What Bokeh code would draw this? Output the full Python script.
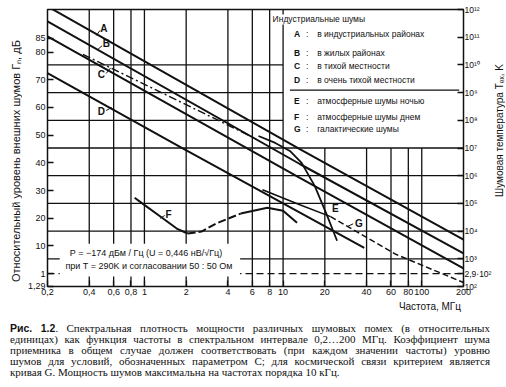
import math
from bokeh.plotting import figure
from bokeh.models import FixedTicker, LinearAxis, Label, Div
from bokeh.layouts import column, row
from bokeh.embed import file_html
from bokeh.resources import INLINE

# ---------------- data ----------------
X_TICKS = [0.2, 0.4, 0.6, 0.8, 1, 2, 4, 6, 8, 10, 20, 40, 60, 80, 100, 200]
X_LABELS = ["0,2", "0,4", "0,6", "0,8", "1", "2", "4", "6", "8", "10",
            "20", "40", "60", "80", "100", "200"]
Y_TICKS = [-4.62, 0, 10, 20, 30, 40, 50, 60, 70, 80, 85]
Y_LABELS = ["1,29", "1", "10", "20", "30", "40", "50", "60", "70", "80", "85"]
T_EXP = [2, 3, 4, 5, 6, 7, 8, 9, 10, 11, 12]
T_LABELS = ["10²", "10³", "10⁴", "10⁵", "10⁶", "10⁷", "10⁸", "10⁹", "10¹⁰", "10¹¹", "10¹²"]
T0_LABEL = "2,9·10²"

GRID_F = [0.4, 0.6, 0.8, 1, 2, 4, 6, 8, 10, 20, 40, 60, 80, 100]
GRID_T = [3, 4, 5, 6, 7, 8, 9, 10]

# industrial noise (MHz, dB)
A_F = [0.215, 13.2, 200]
A_DB = [95.6, 45.0, 12.3]
B_F = [0.2, 13.2, 200]
B_DB = [91.1, 39.6, 7.3]
C_F = [0.2, 13.2, 200]
C_DB = [85.7, 34.6, 1.9]
C2_F = [0.36, 5.8]
C2_DB = [79.2, 49.7]
D_F = [0.2, 1.86, 38.5]
D_DB = [72.4, 45.4, 9.3]
# atmospheric night
E_F = [6.65, 8.78, 11.2, 13.6, 16.9, 20.5, 24.5]
E_DB = [49.7, 47.2, 44.3, 40.0, 31.7, 21.7, 11.9]
# atmospheric day
F_F = [0.85, 0.97, 1.34, 1.71, 2.05, 2.58, 3.29, 4.95, 7.7, 10.0, 12.6]
F_DB = [27.4, 25.3, 20.2, 16.3, 14.5, 15.2, 18.1, 21.7, 23.8, 22.7, 18.4]
# galactic
G_F = [7.1, 13.2, 22, 65, 200]
G_DB = [30.3, 24.9, 20.6, 7.0, -3.2]

LEGEND_TITLE = "Индустриальные шумы"
LEGEND_KEYS = ["A", "B", "C", "D", "E", "F", "G"]
LEGEND_TEXT = ["в индустриальных районах", "в жилых районах", "в тихой местности",
               "в очень тихой местности", "атмосферные шумы ночью",
               "атмосферные шумы днем", "галактические шумы"]

Y_TITLE = "Относительный уровень внешних шумов Гₙ, дБ"
Y2_TITLE = "Шумовая температура Tₑₓ, K"
X_TITLE = "Частота, МГц"

FONT = "Liberation Sans"
BLACK = "#111111"
FIG_H = 300

def t_db(n):
    return 10 * math.log10(10 ** n / 290.0)

Y0, Y1 = t_db(2), t_db(12)

p = figure(width=470, height=FIG_H, x_axis_type="log", x_range=(0.2, 200),
           y_range=(Y0, Y1), output_backend="svg", toolbar_location=None,
           min_border_left=19, min_border_right=25, min_border_top=9,
           min_border_bottom=14, background_fill_color="white",
           border_fill_color="white")
p.grid.visible = False
p.outline_line_color = BLACK
p.outline_line_width = 1.5

def style_axis(ax):
    ax.axis_line_color = None
    ax.major_tick_in = 6
    ax.major_tick_out = 0
    ax.minor_tick_line_color = None
    ax.major_tick_line_color = BLACK
    ax.major_tick_line_width = 1.3
    ax.major_label_text_font = FONT
    ax.major_label_text_font_size = "9px"
    ax.major_label_text_color = BLACK
    ax.major_label_standoff = 2

xa = p.xaxis[0]
xa.ticker = FixedTicker(ticks=X_TICKS)
xa.major_label_overrides = {t: l for t, l in zip(X_TICKS, X_LABELS)}
style_axis(xa)

ya = p.yaxis[0]
ya.ticker = FixedTicker(ticks=Y_TICKS)
ya.major_label_overrides = {t: l for t, l in zip(Y_TICKS, Y_LABELS)}
style_axis(ya)

r_ticks = [t_db(n) for n in T_EXP] + [0.0]
r_labels = T_LABELS + [T0_LABEL]
ra = LinearAxis(ticker=FixedTicker(ticks=r_ticks))
ra.major_label_overrides = {t: l for t, l in zip(r_ticks, r_labels)}
style_axis(ra)
ra.major_label_text_font_size = "8.5px"
ra.major_label_standoff = 1
p.add_layout(ra, "right")

# ---------------- grid ----------------
t7 = t_db(7)
vx = GRID_F
vy0 = [Y0] * len(vx)
vy1 = [t7 if f >= 20 else Y1 for f in vx]
p.segment(x0=vx, y0=vy0, x1=vx, y1=vy1, line_color=BLACK, line_width=1.3)
hy = [t_db(n) for n in GRID_T]
hx1 = [10 if n >= 8 else 200 for n in GRID_T]
p.segment(x0=[0.2] * len(hy), y0=hy, x1=hx1, y1=hy, line_color=BLACK, line_width=1.3)
p.segment(x0=[0.2], y0=[0.0], x1=[200], y1=[0.0], line_color=BLACK,
          line_width=1.2, line_dash="7 4")

# white box behind the formula text
p.quad(left=[0.245], right=[4.9], bottom=[-1.0], top=[10.8], fill_color="white",
       line_color=None)

# ---------------- curves ----------------
for xs, ys in [(A_F, A_DB), (B_F, B_DB), (C_F, C_DB), (D_F, D_DB)]:
    p.line(xs, ys, line_color=BLACK, line_width=2)
p.line(C2_F, C2_DB, line_color=BLACK, line_width=1.4, line_dash="8 3 2 3")
p.line(E_F, E_DB, line_color=BLACK, line_width=1.8)
p.line(F_F[:5], F_DB[:5], line_color=BLACK, line_width=2)
p.line(F_F[4:8], F_DB[4:8], line_color=BLACK, line_width=2, line_dash="8 3")
p.line(F_F[7:], F_DB[7:], line_color=BLACK, line_width=2)
p.line(G_F[:3], G_DB[:3], line_color=BLACK, line_width=1.5)
p.line(G_F[2:], G_DB[2:], line_color=BLACK, line_width=1.5, line_dash="6 3")

# curve labels with short leaders
CURVE_LABELS = [("A", 0.48, 88.6), ("B", 0.50, 83.0), ("C", 0.46, 72.0),
                ("D", 0.46, 58.7), ("E", 22.5, 23.5), ("F", 1.42, 21.3),
                ("G", 33.0, 18.1)]
for txt, x, y in CURVE_LABELS:
    p.add_layout(Label(x=x, y=y, text=txt, text_font=FONT, text_font_size="10px",
                       text_font_style="bold", text_color=BLACK,
                       text_baseline="middle", text_align="left"))
LEADERS = [(0.45, 86.0, 0.478, 87.8), (0.46, 80.9, 0.495, 82.3),
           (0.53, 72.3, 0.57, 74.3), (0.53, 58.9, 0.58, 60.0),
           (1.30, 20.0, 1.40, 21.0), (29.0, 17.0, 32.0, 18.0)]
p.segment(x0=[l[0] for l in LEADERS], y0=[l[1] for l in LEADERS],
          x1=[l[2] for l in LEADERS], y1=[l[3] for l in LEADERS],
          line_color=BLACK, line_width=1)

# ---------------- legend ----------------
p.add_layout(Label(x=8.4, y=91.8, text=LEGEND_TITLE, text_font=FONT,
                   text_font_size="8.5px", text_color=BLACK, text_baseline="middle",
                   background_fill_color="white"))
LEG_Y = [86.4, 79.6, 74.9, 69.9, 62.3, 56.6, 52.2]
for k, t, y in zip(LEGEND_KEYS, LEGEND_TEXT, LEG_Y):
    p.add_layout(Label(x=12.0, y=y, text=k, text_font=FONT, text_font_size="8.5px",
                       text_font_style="bold", text_color=BLACK, text_baseline="middle"))
    p.add_layout(Label(x=14.6, y=y, text=":", text_font=FONT, text_font_size="8.5px",
                       text_color=BLACK, text_baseline="middle"))
    p.add_layout(Label(x=17.6, y=y, text=t, text_font=FONT, text_font_size="8.5px",
                       text_color=BLACK, text_baseline="middle"))
p.segment(x0=[11.2], y0=[66.3], x1=[186], y1=[66.3], line_color=BLACK, line_width=1.2)

# formula text
p.add_layout(Label(x=1.05, y=7.6, text="P = −174 дБм / Гц  (U = 0,446 нВ/√Гц)",
                   text_font=FONT, text_font_size="9px", text_color=BLACK,
                   text_align="center", text_baseline="middle"))
p.add_layout(Label(x=1.08, y=2.9, text="при T = 290K и согласовании 50 : 50 Ом",
                   text_font=FONT, text_font_size="9px", text_color=BLACK,
                   text_align="center", text_baseline="middle"))

# ---------------- rotated axis titles (HTML, reading upwards) ----------------
def vtitle(text, w, left, top, h, size):
    return ('<div style="width:%dpx;height:%dpx;position:relative">'
            '<div style="position:absolute;left:%dpx;top:%dpx;width:12px;height:%dpx;'
            'writing-mode:vertical-rl;transform:rotate(180deg);text-align:center;'
            "font-family:'Liberation Sans';font-size:%spx;line-height:12px;color:#111;"
            'white-space:nowrap">%s</div></div>' % (w, FIG_H, left, top, h, size, text))

ldiv = Div(text=vtitle(Y_TITLE, 24, 10, 30, 262, "11"), width=24, height=FIG_H,
           margin=(0, 0, 0, 0))
rdiv = Div(text=vtitle(Y2_TITLE, 12, 0, 50, 160, "10"), width=12, height=FIG_H,
           margin=(0, 0, 0, 0))

# ---------------- x title + caption ----------------
CAPTION = [
    '<b style="font-family:\'Liberation Sans\';font-size:10.5px">Рис. 1.2</b>. Спектральная плотность мощности различных шумовых помех (в относительных',
    "единицах) как функция частоты в спектральном интервале 0,2…200 МГц. Коэффициент шума",
    "приемника в общем случае должен соответствовать (при каждом значении частоты) уровню",
    "шумов для условий, обозначенных параметром C; для космической связи критерием является",
    "кривая G. Мощность шумов максимальна на частотах порядка 10 кГц.",
]
rows = []
for i, line in enumerate(CAPTION):
    last = "left" if i == len(CAPTION) - 1 else "justify"
    rows.append('<div style="text-align:justify;text-align-last:%s;white-space:nowrap;'
                'height:11px;line-height:11px">%s</div>' % (last, line))
xtitle = ('<div style="font-family:\'Liberation Sans\';font-size:10px;line-height:12px;'
          'height:12px;margin-top:1px;color:#111;width:461px;text-align:right">'
          + X_TITLE + '</div>')
html = (xtitle + '<div style="font-family:\'Liberation Serif\';font-size:11px;line-height:11px;'
        'color:#111;width:490px;padding-top:10px;padding-left:10px">' + "".join(rows) + "</div>")
cap = Div(text=html, width=506, height=387 - FIG_H, margin=(0, 0, 0, 0))

layout = column(row(ldiv, p, rdiv, spacing=0), cap, spacing=0)
open("out.html", "w").write(file_html(layout, INLINE))
